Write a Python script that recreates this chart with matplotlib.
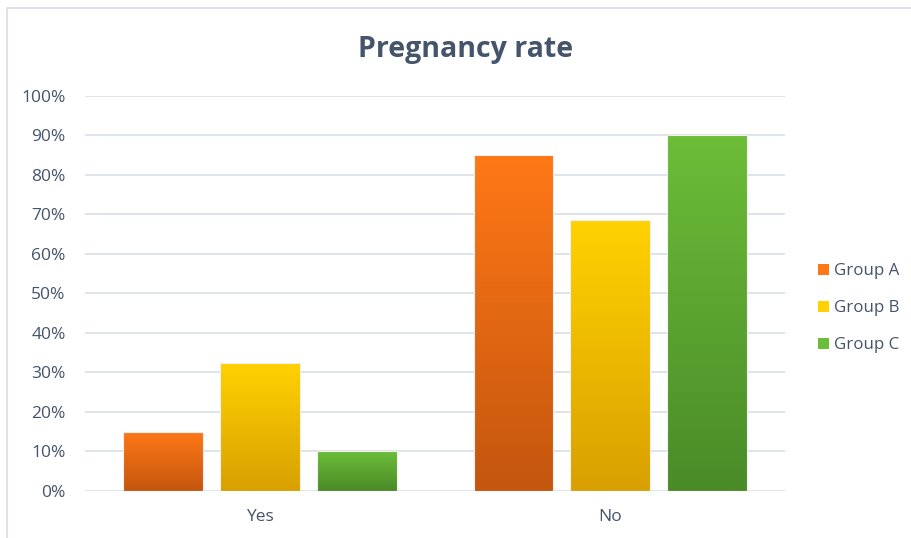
import numpy as np
import matplotlib.pyplot as plt
from matplotlib.colors import LinearSegmentedColormap
from matplotlib.patches import Patch, Rectangle

plt.rcParams['font.family'] = ['Open Sans', 'DejaVu Sans']

categories = ['Yes', 'No']
groups = ['Group A', 'Group B', 'Group C']
group_a = [15, 85]
group_b = [32.5, 68.5]
group_c = [10, 90]
yticks = [0, 10, 20, 30, 40, 50, 60, 70, 80, 90, 100]

# top / bottom colours of each bar gradient
grad = [('#ff7816', '#c4560f'),
        ('#ffd200', '#d9a000'),
        ('#6cbd38', '#4a8b28')]
txt_col = '#44546a'
grid_col = '#d9dee6'

fig = plt.figure(figsize=(9.11, 5.38), dpi=100)
fig.add_artist(Rectangle((0.008, -0.01), 1.0, 0.995, transform=fig.transFigure,
                         fill=False, edgecolor='#d9dde3', lw=1.2))
ax = fig.add_axes([0.0933, 0.0874, 0.7684, 0.7342])

x = np.arange(len(categories))
w = 0.226
step = 0.277
vals = [group_a, group_b, group_c]

ax.set_xlim(-0.5, 1.5)
ax.set_ylim(0, 100)

g = np.linspace(0, 1, 256).reshape(-1, 1)
for i, v in enumerate(vals):
    cmap = LinearSegmentedColormap.from_list('g%d' % i, [grad[i][1], grad[i][0]])
    bars = ax.bar(x + (i - 1) * step, v, w, facecolor='none',
                  edgecolor='#f0f0f0', lw=0.8, zorder=3)
    for b in bars:
        x0, y0 = b.get_x(), b.get_y()
        im = ax.imshow(g, cmap=cmap, origin='lower', aspect='auto',
                       extent=[x0, x0 + b.get_width(), y0, y0 + b.get_height()],
                       zorder=2)
        im.set_clip_path(b)

ax.set_xlim(-0.5, 1.5)
ax.set_ylim(0, 100)
ax.set_yticks(yticks)
ax.set_yticklabels(['%d%%' % t for t in yticks])
ax.set_xticks(x)
ax.set_xticklabels(categories)
ax.tick_params(length=0, labelsize=12.5, labelcolor=txt_col)
ax.tick_params(axis='y', pad=14)
ax.tick_params(axis='x', pad=13)
ax.grid(axis='y', color=grid_col, lw=1.2, zorder=0)
ax.set_axisbelow(True)
for s in ax.spines.values():
    s.set_visible(False)

fig.text(0.511, 0.908, 'Pregnancy rate', ha='center', va='center',
         fontsize=20.5, fontweight='bold', color=txt_col)

handles = [Patch(facecolor=grad[i][0], edgecolor='none') for i in range(3)]
leg = fig.legend(handles, groups, loc='center left', bbox_to_anchor=(0.889, 0.427),
                 frameon=False, fontsize=12.2, handlelength=0.6, handleheight=0.6,
                 handletextpad=0.35, labelspacing=1.25, borderpad=0)
for t in leg.get_texts():
    t.set_color(txt_col)

fig.savefig('out.png', dpi=100)
